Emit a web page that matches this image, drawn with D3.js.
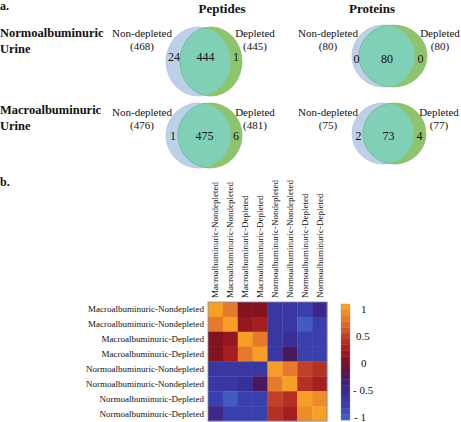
<!DOCTYPE html>
<html><head><meta charset="utf-8">
<script src="https://cdn.jsdelivr.net/npm/d3@7/dist/d3.min.js"></script>
<style>body{margin:0;background:#fff}svg{display:block}text{font-family:"Liberation Serif","Times New Roman",serif;fill:#111}</style>
</head><body>
<script>
// ---- data ----
const vennGroups = ["Peptides", "Proteins"];
const vennRows = ["Normoalbuminuric Urine", "Macroalbuminuric Urine"];
const nonDepletedTotals = [[468, 80], [476, 75]];
const depletedTotals = [[445, 80], [481, 77]];
const onlyNonDepleted = [[24, 0], [1, 2]];
const shared = [[444, 80], [475, 73]];
const onlyDepleted = [[1, 0], [6, 4]];

const heatLabels = [
  "Macroalbuminuric-Nondepleted", "Macroalbuminuric-Nondepleted",
  "Macroalbuminuric-Depleted", "Macroalbuminuric-Depleted",
  "Normoalbuminuric-Nondepleted", "Normoalbuminuric-Nondepleted",
  "Normoalbuminuric-Depleted", "Normoalbuminuric-Depleted"];
const corr = [
  [1.00, 0.72, 0.05, 0.05, -0.70, -0.70, -0.75, -0.50],
  [0.72, 1.00, 0.15, 0.20, -0.70, -0.70, -0.92, -0.75],
  [0.05, 0.15, 1.00, 0.72, -0.70, -0.55, -0.72, -0.72],
  [0.05, 0.20, 0.72, 1.00, -0.70, -0.30, -0.72, -0.72],
  [-0.70, -0.70, -0.70, -0.70, 1.00, 0.72, 0.45, 0.35],
  [-0.70, -0.70, -0.55, -0.30, 0.72, 1.00, 0.35, 0.20],
  [-0.75, -0.92, -0.72, -0.72, 0.45, 0.35, 1.00, 0.88],
  [-0.50, -0.75, -0.72, -0.72, 0.35, 0.20, 0.88, 1.00]];
const colorTicks = [1, 0.5, 0, -0.5, -1];
const colorTickLabels = ["1", "0.5", "0", "- 0.5", "- 1"];

// ---- drawing ----
const W = 461, H = 422;
const svg = d3.select("body").append("svg").attr("width", W).attr("height", H)
  .attr("font-family", "'Liberation Serif', 'Times New Roman', serif");

svg.append("text").attr("x", 0).attr("y", 10).attr("font-weight", "bold").attr("font-size", 12).text("a.");
svg.append("text").attr("x", 0).attr("y", 186).attr("font-weight", "bold").attr("font-size", 12).text("b.");

const groupX = d3.scalePoint().domain(vennGroups).range([222, 372]);
vennGroups.forEach(g => svg.append("text").attr("x", groupX(g)).attr("y", 13)
  .attr("text-anchor", "middle").attr("font-weight", "bold").attr("font-size", 13).text(g));

const rowY = d3.scalePoint().domain(vennRows).range([37, 114]);
vennRows.forEach(r => {
  const parts = r.split(" ");
  svg.append("text").attr("x", 0).attr("y", rowY(r)).attr("font-weight", "bold").attr("font-size", 12.5).text(parts[0]);
  svg.append("text").attr("x", 0).attr("y", rowY(r) + 16).attr("font-weight", "bold").attr("font-size", 12.5).text(parts[1]);
});

// venn geometry per [row][group]
const geo = [
  [{b:[198.5,61.5,32.5,34.5], g:[211,61.5,31,34.5], cy:57},
   {b:[383.5,56,31.5,31], g:[393,56,34,31], cy:59}],
  [{b:[198.5,135.5,32.5,32.5], g:[210,135.5,32,32.5], cy:136},
   {b:[383,133.5,31,30.5], g:[394.5,133.5,31.5,30.5], cy:136}]];
const defs = svg.append("defs");
let cid = 0;
vennRows.forEach((r, ri) => vennGroups.forEach((g, gi) => {
  const G = geo[ri][gi];
  const e = (p, fill, stroke) => svg.append("ellipse").attr("cx", p[0]).attr("cy", p[1]).attr("rx", p[2]).attr("ry", p[3])
    .attr("fill", fill).attr("stroke", stroke).attr("stroke-width", 0.7);
  e(G.b, "#bcd0ea", "#adc2de");
  e(G.g, "#8ec56c", "#80b363");
  const id = "clip" + (cid++);
  defs.append("clipPath").attr("id", id).append("ellipse")
    .attr("cx", G.b[0]).attr("cy", G.b[1]).attr("rx", G.b[2]).attr("ry", G.b[3]);
  svg.append("ellipse").attr("cx", G.g[0]).attr("cy", G.g[1]).attr("rx", G.g[2]).attr("ry", G.g[3])
    .attr("clip-path", `url(#${id})`).attr("fill", "#7fd0b6").attr("stroke", "#6fbca0").attr("stroke-width", 0.6);
  const leftX = G.b[0] - G.b[2], rightX = G.g[0] + G.g[2];
  const innerL = G.g[0] - G.g[2], innerR = G.b[0] + G.b[2];
  const num = (x, v) => svg.append("text").attr("x", x).attr("y", G.cy + 4).attr("text-anchor", "middle").attr("font-size", 12).text(v);
  num((leftX + innerL) / 2 + 1, onlyNonDepleted[ri][gi]);
  num((innerL + innerR) / 2, shared[ri][gi]);
  num((innerR + rightX) / 2 - 0.5, onlyDepleted[ri][gi]);
  const ly = ri === 0 ? 37 : 116;
  const lab = (x, t1, t2) => {
    svg.append("text").attr("x", x).attr("y", ly).attr("text-anchor", "middle").attr("font-size", 11).text(t1);
    svg.append("text").attr("x", x).attr("y", ly + 13).attr("text-anchor", "middle").attr("font-size", 11).text(t2);
  };
  lab(leftX - 24, "Non-depleted", `(${nonDepletedTotals[ri][gi]})`);
  lab(rightX + 13, "Depleted", `(${depletedTotals[ri][gi]})`);
}));

// ---- heatmap ----
const idx = d3.range(heatLabels.length);
const hx = d3.scaleBand().domain(idx).range([208, 327]);
const hy = d3.scaleBand().domain(idx).range([302, 421]);
const color = d3.scaleLinear()
  .domain([-1, -0.75, -0.5, -0.25, 0, 0.25, 0.5, 0.75, 1])
  .range(["#4462c4", "#3a3fae", "#3a2b92", "#48195e", "#7b1020", "#a61e1e", "#c94a28", "#e67a2a", "#f9a922"])
  .clamp(true);
const nb = 20;
const quant = v => { const k = Math.min(nb - 1, Math.floor((v + 1) / 2 * nb)); return -1 + (k + 0.5) * 2 / nb; };

const cells = [];
corr.forEach((row, i) => row.forEach((v, j) => cells.push({i, j, v})));
svg.append("g").selectAll("rect").data(cells).join("rect")
  .attr("x", d => hx(d.j)).attr("y", d => hy(d.i))
  .attr("width", hx.bandwidth() + 0.3).attr("height", hy.bandwidth() + 0.3)
  .attr("fill", d => color(quant(d.v)));
svg.append("rect").attr("x", 208).attr("y", 302).attr("width", 119).attr("height", 119)
  .attr("fill", "none").attr("stroke", "#8a8ab0").attr("stroke-width", 0.8);

svg.append("g").selectAll("text").data(idx).join("text")
  .attr("x", 204).attr("y", d => hy(d) + hy.bandwidth() / 2 + 3)
  .attr("text-anchor", "end").attr("font-size", 9).text(d => heatLabels[d]);
svg.append("g").selectAll("text").data(idx).join("text")
  .attr("transform", d => `translate(${hx(d) + hx.bandwidth() / 2 + 3},298) rotate(-90)`)
  .attr("text-anchor", "start").attr("font-size", 9).text(d => heatLabels[d]);

// ---- colorbar ----
const cbY = d3.scaleLinear().domain([1, -1]).range([304, 420]);
const bands = d3.range(nb).map(k => -1 + k * 2 / nb);
svg.append("g").selectAll("rect").data(bands).join("rect")
  .attr("x", 341).attr("width", 9)
  .attr("y", d => cbY(d + 2 / nb)).attr("height", (cbY(-1) - cbY(1)) / nb + 0.3)
  .attr("fill", d => color(d + 1 / nb));
svg.append("rect").attr("x", 341).attr("y", 304).attr("width", 9).attr("height", 116)
  .attr("fill", "none").attr("stroke", "#999").attr("stroke-width", 0.4);
const tickY = d3.scaleLinear().domain([1, -1]).range([309, 417]);
svg.append("g").selectAll("text").data(colorTicks).join("text")
  .attr("x", (d, i) => [361, 356, 361, 353, 354][i])
  .attr("y", d => tickY(d) + 4).attr("font-size", 11)
  .text((d, i) => colorTickLabels[i]);
</script>
</body></html>
